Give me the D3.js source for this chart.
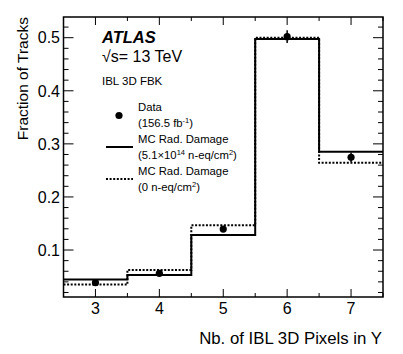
<!DOCTYPE html>
<html><head><meta charset="utf-8">
<script src="https://cdn.jsdelivr.net/npm/d3@7"></script>
<style>body{margin:0;background:#fff}svg{display:block;font-family:"Liberation Sans",Arial,Helvetica,sans-serif}</style>
</head><body><svg id="c" width="403" height="354"></svg>
<script>
const bins = [3, 4, 5, 6, 7];
const dataVals = [0.0385, 0.0561, 0.1395, 0.502, 0.2746];
const dataErr = [0.003, 0.003, 0.004, 0.012, 0.009];
const mcDamage = [0.0447, 0.0529, 0.1283, 0.4975, 0.285];
const mcNoDamage = [0.035, 0.0623, 0.1465, 0.5, 0.2644];
const yTicks = [0.1, 0.2, 0.3, 0.4, 0.5];
const xTicks = [3, 4, 5, 6, 7];

const svg = d3.select("#c");
const L = 63.5, R = 383, T = 17, B = 297;
const x = d3.scaleLinear().domain([2.5, 7.5]).range([L, R]);
const y = d3.scaleLinear().domain([0.0115, 0.539]).range([B, T]);

// frame
svg.append("rect").attr("x", L).attr("y", T).attr("width", R - L).attr("height", B - T)
  .attr("fill", "none").attr("stroke", "#000").attr("stroke-width", 1.5);

// ticks
const g = svg.append("g").attr("stroke", "#000").attr("stroke-width", 1);
const yMinor = d3.range(0.02, 0.54, 0.02).filter(v => y(v) <= B && y(v) >= T);
yMinor.forEach(v => {
  const major = yTicks.some(t => Math.abs(t - v) < 1e-6);
  const len = major ? 10 : 5;
  g.append("line").attr("x1", L).attr("x2", L + len).attr("y1", y(v)).attr("y2", y(v));
  g.append("line").attr("x1", R).attr("x2", R - len).attr("y1", y(v)).attr("y2", y(v));
});
d3.range(3, 7.6, 0.5).forEach(v => {
  const major = Math.abs(v - Math.round(v)) < 1e-6;
  const len = major ? 8 : 4;
  g.append("line").attr("x1", x(v)).attr("x2", x(v)).attr("y1", B).attr("y2", B - len);
  g.append("line").attr("x1", x(v)).attr("x2", x(v)).attr("y1", T).attr("y2", T + len);
});

// tick labels
svg.selectAll(".yl").data(yTicks).join("text").attr("x", 60).attr("y", d => y(d))
  .attr("dy", "0.36em").attr("text-anchor", "end").attr("font-size", 16).text(d => d);
svg.selectAll(".xl").data(xTicks).join("text").attr("x", d => x(d)).attr("y", 314)
  .attr("text-anchor", "middle").attr("font-size", 16).text(d => d);

// axis titles
svg.append("text").attr("transform", "translate(28,17) rotate(-90)").attr("text-anchor", "end")
  .attr("font-size", 15.5).text("Fraction of Tracks");
svg.append("text").attr("x", 382).attr("y", 344).attr("text-anchor", "end")
  .attr("font-size", 16.8).text("Nb. of IBL 3D Pixels in Y");

// histograms
function stepPts(vals) {
  const pts = bins.map((b, i) => [b - 0.5, vals[i]]);
  pts.push([bins[bins.length - 1] + 0.5, vals[vals.length - 1]]);
  return pts;
}
const line = d3.line().x(d => x(d[0])).y(d => y(d[1])).curve(d3.curveStepAfter);
svg.append("path").attr("d", line(stepPts(mcDamage))).attr("fill", "none")
  .attr("stroke", "#000").attr("stroke-width", 2);
svg.append("path").attr("d", line(stepPts(mcNoDamage))).attr("fill", "none")
  .attr("stroke", "#000").attr("stroke-width", 2).attr("stroke-dasharray", "2,1.6");

// data
svg.selectAll(".eb").data(bins).join("line").attr("x1", d => x(d)).attr("x2", d => x(d))
  .attr("y1", (d, i) => y(dataVals[i] - dataErr[i])).attr("y2", (d, i) => y(dataVals[i] + dataErr[i]))
  .attr("stroke", "#000").attr("stroke-width", 1.5);
svg.selectAll(".pt").data(bins).join("circle").attr("cx", d => x(d)).attr("cy", (d, i) => y(dataVals[i]))
  .attr("r", 3.6).attr("fill", "#000");

// labels
svg.append("text").attr("x", 102).attr("y", 43).attr("font-size", 16.5).attr("font-weight", "bold")
  .attr("font-style", "italic").text("ATLAS");
svg.append("text").attr("x", 102).attr("y", 62).attr("font-size", 16).text("√s= 13 TeV");
svg.append("text").attr("x", 102).attr("y", 85).attr("font-size", 11.5).text("IBL 3D FBK");

// legend
const fs = 11.3;
function sup(t, parts) {
  parts.forEach(p => {
    if (p.s) t.append("tspan").attr("font-size", 7.5).attr("dy", -4).text(p.s);
    else t.append("tspan").attr("font-size", fs).attr("dy", p.after ? 4 : 0).text(p.t);
  });
}
const tx = 138;
svg.append("circle").attr("cx", 119).attr("cy", 115.5).attr("r", 3.6).attr("fill", "#000");
svg.append("text").attr("x", tx).attr("y", 111).attr("font-size", fs).text("Data");
sup(svg.append("text").attr("x", tx).attr("y", 127).attr("font-size", fs),
  [{t: "(156.5 fb"}, {s: "-1"}, {t: ")", after: true}]);
svg.append("line").attr("x1", 106).attr("x2", 133).attr("y1", 147).attr("y2", 147)
  .attr("stroke", "#000").attr("stroke-width", 2);
svg.append("text").attr("x", tx).attr("y", 143).attr("font-size", fs).text("MC Rad. Damage");
sup(svg.append("text").attr("x", tx).attr("y", 159).attr("font-size", fs),
  [{t: "(5.1×10"}, {s: "14"}, {t: " n-eq/cm", after: true}, {s: "2"}, {t: ")", after: true}]);
svg.append("line").attr("x1", 106).attr("x2", 133).attr("y1", 179).attr("y2", 179)
  .attr("stroke", "#000").attr("stroke-width", 2).attr("stroke-dasharray", "2,1.6");
svg.append("text").attr("x", tx).attr("y", 175).attr("font-size", fs).text("MC Rad. Damage");
sup(svg.append("text").attr("x", tx).attr("y", 191).attr("font-size", fs),
  [{t: "(0 n-eq/cm"}, {s: "2"}, {t: ")", after: true}]);
</script></body></html>
